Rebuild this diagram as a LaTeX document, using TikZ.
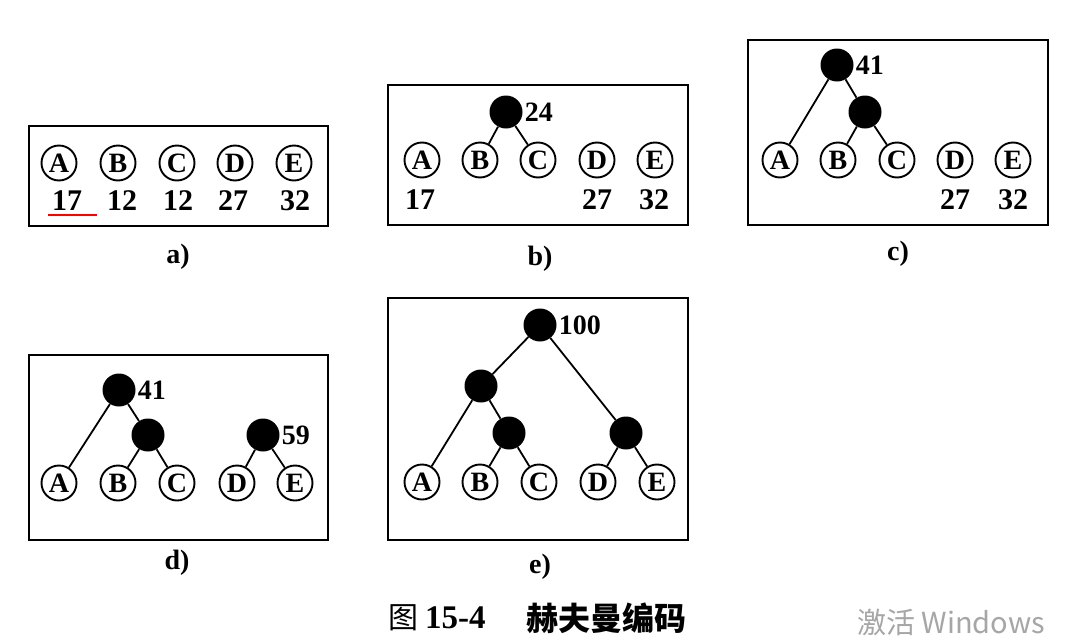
\documentclass[tikz,border=0pt]{standalone}
\usepackage{fontspec}
\setmainfont{Liberation Serif}
\newfontfamily\cjk{Noto Sans CJK SC}
\newfontfamily\wmfont{Noto Sans CJK SC}
\begin{document}
\begin{tikzpicture}[x=1pt,y=-1pt,
  leaf/.style={circle, draw, line width=1.9pt, minimum size=35pt, inner sep=0pt,
     font=\bfseries\fontsize{28}{28}\selectfont},
  inner/.style={circle, fill=black, minimum size=33pt, inner sep=0pt},
  panel/.style={draw, line width=2.2pt},
  edge/.style={line width=1.8pt},
  num/.style={font=\bfseries\fontsize{30}{30}\selectfont, inner sep=0pt},
  wlab/.style={font=\bfseries\fontsize{28}{28}\selectfont, anchor=west, inner sep=2pt},
  sub/.style={font=\bfseries\fontsize{28}{28}\selectfont, inner sep=0pt}]
\useasboundingbox (0,0) rectangle (1074,643);
\fill[white] (0,0) rectangle (1074,643);

% ---------- a ----------
\draw[panel] (29,126) rectangle (328,226);
\node[leaf] (aA) at (59,163) {A};
\node[leaf] (aB) at (118,163) {B};
\node[leaf] (aC) at (177,163) {C};
\node[leaf] (aD) at (235,163) {D};
\node[leaf] (aE) at (294,163) {E};
\node[num] (an1) at (67,201) {17};
\node[num] (an2) at (122,201) {12};
\node[num] (an3) at (178,201) {12};
\node[num] (an4) at (233,201) {27};
\node[num] (an5) at (295,201) {32};
\coordinate (ul1) at (48,215);
\coordinate (ul2) at (97,215);
\draw[red, line width=1.3pt] (ul1) -- (ul2);
\node[sub] (la) at (178,257) {a)};

% ---------- b ----------
\draw[panel] (388,85) rectangle (688,225);
\node[leaf] (bA) at (422,160) {A};
\node[leaf] (bB) at (480,160) {B};
\node[leaf] (bC) at (538,160) {C};
\node[leaf] (bD) at (597,160) {D};
\node[leaf] (bE) at (655,160) {E};
\node[inner] (bBC) at (506,112) {};
\node[wlab] (b24) at (bBC.east) {24};
\draw[edge] (bBC) -- (bB);
\draw[edge] (bBC) -- (bC);
\node[num] (bn1) at (420,200) {17};
\node[num] (bn4) at (597,200) {27};
\node[num] (bn5) at (654,200) {32};
\node[sub] (lb) at (540,259) {b)};

% ---------- c ----------
\draw[panel] (748,40) rectangle (1048,225);
\node[leaf] (cA) at (780,160) {A};
\node[leaf] (cB) at (838,160) {B};
\node[leaf] (cC) at (897,160) {C};
\node[leaf] (cD) at (955,160) {D};
\node[leaf] (cE) at (1013,160) {E};
\node[inner] (cR) at (837,65) {};
\node[inner] (cBC) at (865,112) {};
\node[wlab] (c41) at (cR.east) {41};
\draw[edge] (cR) -- (cA);
\draw[edge] (cR) -- (cBC);
\draw[edge] (cBC) -- (cB);
\draw[edge] (cBC) -- (cC);
\node[num] (cn4) at (955,200) {27};
\node[num] (cn5) at (1013,200) {32};
\node[sub] (lc) at (898,254) {c)};

% ---------- d ----------
\draw[panel] (29,355) rectangle (328,540);
\node[leaf] (dA) at (59,483) {A};
\node[leaf] (dB) at (118,483) {B};
\node[leaf] (dC) at (177,483) {C};
\node[leaf] (dD) at (237,483) {D};
\node[leaf] (dE) at (295,483) {E};
\node[inner] (dR) at (119,390) {};
\node[inner] (dBC) at (148,435) {};
\node[inner] (dDE) at (263,435) {};
\node[wlab] (d41) at (dR.east) {41};
\node[wlab] (d59) at (dDE.east) {59};
\draw[edge] (dR) -- (dA);
\draw[edge] (dR) -- (dBC);
\draw[edge] (dBC) -- (dB);
\draw[edge] (dBC) -- (dC);
\draw[edge] (dDE) -- (dD);
\draw[edge] (dDE) -- (dE);
\node[sub] (ld) at (177,563) {d)};

% ---------- e ----------
\draw[panel] (388,298) rectangle (688,540);
\node[leaf] (eA) at (422,482) {A};
\node[leaf] (eB) at (480,482) {B};
\node[leaf] (eC) at (539,482) {C};
\node[leaf] (eD) at (598,482) {D};
\node[leaf] (eE) at (657,482) {E};
\node[inner] (eR) at (540,325) {};
\node[inner] (eABC) at (481,386) {};
\node[inner] (eBC) at (509,433) {};
\node[inner] (eDE) at (626,433) {};
\node[wlab] (e100) at (eR.east) {100};
\draw[edge] (eR) -- (eABC);
\draw[edge] (eR) -- (eDE);
\draw[edge] (eABC) -- (eA);
\draw[edge] (eABC) -- (eBC);
\draw[edge] (eBC) -- (eB);
\draw[edge] (eBC) -- (eC);
\draw[edge] (eDE) -- (eD);
\draw[edge] (eDE) -- (eE);
\node[sub] (le) at (540,567) {e)};

% ---------- caption ----------
\node[anchor=west, inner sep=0pt, font=\fontsize{30}{30}\selectfont\cjk] (cap0) at (388,618) {图};
\node[anchor=west, inner sep=0pt, font=\bfseries\fontsize{33}{33}\selectfont] (cap1) at (425,618) {15-4};
\node[anchor=west, inner sep=0pt, font=\fontsize{32}{32}\selectfont\cjk\bfseries] (cap2) at (526,618)
  {赫夫曼编码};
\node[anchor=west, inner sep=0pt, text=black!35, font=\fontsize{29}{29}\selectfont\wmfont] (wm) at (857,622)
  {激活 Windows};
\end{tikzpicture}
\end{document}
